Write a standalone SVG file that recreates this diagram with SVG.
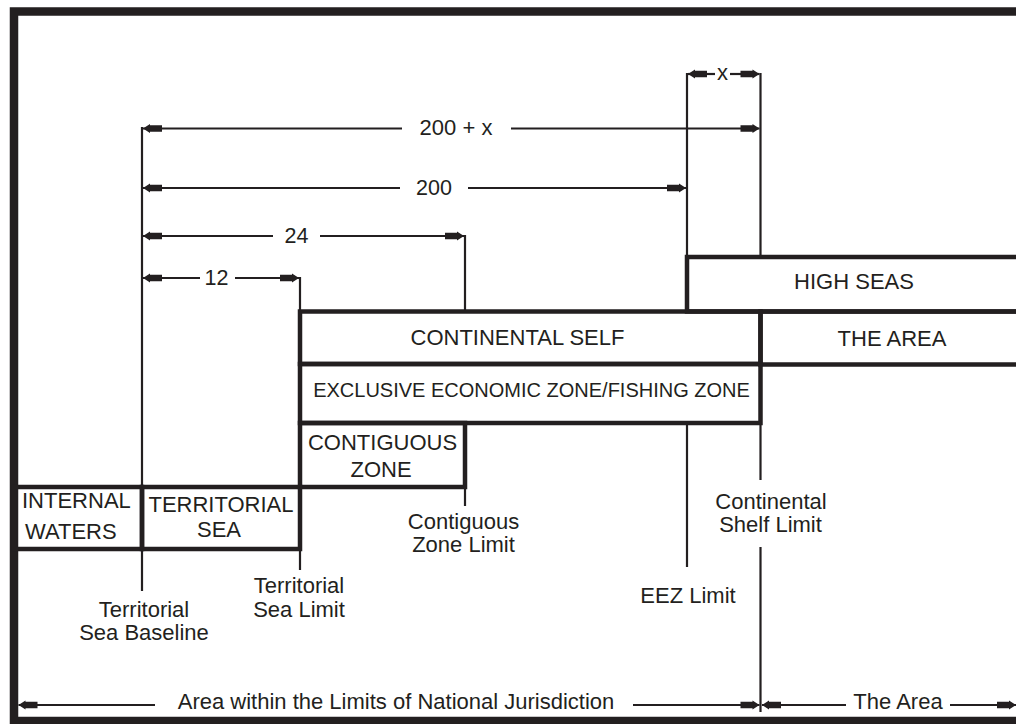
<svg xmlns="http://www.w3.org/2000/svg" width="1016" height="724" viewBox="0 0 1016 724">
<style>
.box{fill:none;stroke:#231f20;stroke-width:4.5}
.ln{fill:none;stroke:#231f20;stroke-width:2.2}
.dim{fill:none;stroke:#231f20;stroke-width:2.2;marker-end:url(#ah)}
text{font-family:"Liberation Sans",Arial,Helvetica,sans-serif;fill:#231f20;font-size:22px}
.c{text-anchor:middle}
.num{font-size:21.5px}
</style>
<defs>
<marker id="ah" viewBox="-20 -5 21 10" refX="0" refY="0" markerWidth="21" markerHeight="10" markerUnits="userSpaceOnUse" orient="auto-start-reverse">
<path d="M0,0 L-7,-4.5 L-7,-3.3 L-19,-3.3 L-19,3.3 L-7,3.3 L-7,4.5 Z" fill="#231f20"/>
</marker>
</defs>
<rect width="1016" height="724" fill="#fff"/>
<rect id="frame" x="14" y="11.5" width="1012" height="709.5" fill="none" stroke="#231f20" stroke-width="8.5"/>

<g id="connectors">
<path class="ln" d="M142,127 V591"/>
<path class="ln" d="M300,277 V312 M300,549 V570"/>
<path class="ln" d="M465,235 V312 M465,487 V506"/>
<path class="ln" d="M687,73 V257 M687,423 V567"/>
<path class="ln" d="M760.5,73 V257 M760.5,423 V480 M760.5,547 V712"/>
<path class="dim" d="M715,74 H688"/>
<path class="dim" d="M730,74 H759.5"/>
<path class="dim" d="M402,128.5 H143"/>
<path class="dim" d="M511,128.5 H759.5"/>
<path class="dim" d="M400,188 H143"/>
<path class="dim" d="M468,188 H686"/>
<path class="dim" d="M273,236 H143"/>
<path class="dim" d="M320,236 H464"/>
<path class="dim" d="M200,278 H143"/>
<path class="dim" d="M235,278 H299"/>
<path class="dim" d="M155,705 H18.5"/>
<path class="dim" d="M633,705 H759.5"/>
<path class="dim" d="M846,705 H762"/>
<path class="dim" d="M950,705 H1016"/>
</g>

<g id="dim-labels">
<text class="c" x="722.5" y="80">x</text>
<text class="c" x="456" y="134.5">200 + x</text>
<text class="c num" x="434" y="194.5">200</text>
<text class="c num" x="296.5" y="243">24</text>
<text class="c num" x="216.5" y="284.5">12</text>
<text class="c" x="396" y="709">Area within the Limits of National Jurisdiction</text>
<text class="c" x="898" y="709">The Area</text>
</g>

<g id="high-seas">
<rect class="box" x="687" y="257" width="340" height="54.5"/>
<text class="c" x="854" y="289">HIGH SEAS</text>
</g>
<g id="the-area">
<rect class="box" x="760.5" y="311.5" width="300" height="53"/>
<text class="c" x="892" y="346">THE AREA</text>
</g>
<g id="continental-shelf">
<rect class="box" x="300" y="311.5" width="460.5" height="52.5"/>
<text class="c" x="517.5" y="345">CONTINENTAL SELF</text>
</g>
<g id="eez">
<rect class="box" x="300" y="364" width="460.5" height="59"/>
<text class="c" x="531.5" y="397" style="font-size:20px">EXCLUSIVE ECONOMIC ZONE/FISHING ZONE</text>
</g>
<g id="contiguous-zone">
<rect class="box" x="300" y="423" width="165" height="64"/>
<text class="c" x="382.5" y="450">CONTIGUOUS</text>
<text class="c" x="381" y="477">ZONE</text>
</g>
<g id="internal-waters">
<rect class="box" x="14" y="487" width="128" height="62"/>
<text x="22" y="507.5">INTERNAL</text>
<text x="25" y="538.5">WATERS</text>
</g>
<g id="territorial-sea">
<rect class="box" x="142" y="487" width="158" height="62"/>
<text class="c" x="221" y="512">TERRITORIAL</text>
<text class="c" x="219" y="537">SEA</text>
</g>

<g id="label-baseline">
<text class="c" x="144" y="617">Territorial</text>
<text class="c" x="144" y="639.5">Sea Baseline</text>
</g>
<g id="label-ts-limit">
<text class="c" x="299" y="593">Territorial</text>
<text class="c" x="299" y="617">Sea Limit</text>
</g>
<g id="label-cz-limit">
<text class="c" x="463.5" y="529">Contiguous</text>
<text class="c" x="463.5" y="552">Zone Limit</text>
</g>
<g id="label-eez-limit">
<text class="c" x="688" y="603">EEZ Limit</text>
</g>
<g id="label-cs-limit">
<text class="c" x="771" y="509">Continental</text>
<text class="c" x="770.5" y="532">Shelf Limit</text>
</g>
</svg>
